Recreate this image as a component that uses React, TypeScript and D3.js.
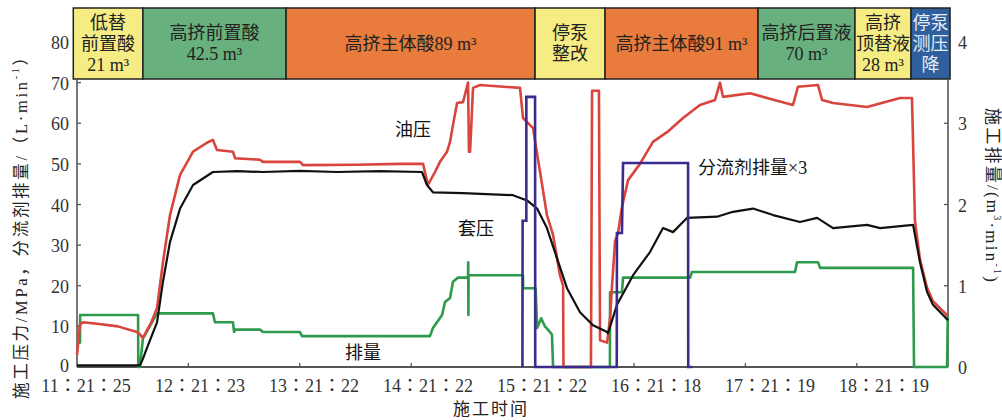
import React from "react";
import * as d3 from "d3";

// time in minutes after 11:21:25, pressures in MPa (left axis)
const oilPressure: [number, number][] = [
  [0, 3], [1.6, 10.5], [3.2, 11], [12, 10.6], [22, 10], [32.3, 8.6], [33.9, 8], [35.5, 7.2],
  [40, 11], [43.1, 14.5], [46.3, 25.8], [50.1, 37.4], [55.5, 47.3], [62.5, 53], [70, 55.2],
  [73.2, 55.9], [75.4, 53.4], [84, 53], [85.1, 51.4], [98.6, 51], [100.2, 50.5], [120.1, 50.5],
  [121.7, 49.7], [150, 49.8], [174, 50], [186.4, 50], [189, 44.8], [192.8, 48], [195.5, 50.5],
  [199.3, 53], [200.9, 55.4], [202.5, 59.6], [204.7, 65], [207.9, 65.2], [210.6, 70], [211.1, 53],
  [211.7, 53], [213.3, 68.7], [217.1, 69.4], [238.6, 68.7], [240.2, 61.3], [245.6, 58.8],
  [253.1, 37.4], [256.4, 32.5], [260.1, 22.6], [261.8, 20], [262, 0], [276.8, 0], [277.4, 68],
  [281.1, 68], [281.7, 6.6], [285.5, 6], [287.1, 12], [288.1, 19.7], [289.8, 31], [291.4, 33],
  [293.5, 39.4], [296.8, 46], [303.2, 50], [310.2, 55.4], [317.8, 57.8], [326.4, 61.3],
  [335.5, 64.5], [343.6, 65.7], [346.3, 70], [347.9, 66.5], [362.5, 67.4], [371.6, 66.2],
  [385.6, 64.5], [388.3, 69], [399.1, 69.4], [401.3, 65.7], [407.2, 65], [425.5, 64],
  [443.3, 66.2], [449.7, 66.2], [451.3, 36], [454, 26.5], [457.8, 19.5], [461, 16.2], [469.1, 12.5],
];

const casingPressure: [number, number][] = [
  [0, 0.4], [33.9, 0.4], [35.5, 2], [37.7, 4.7], [43.1, 11], [46.3, 21], [50.1, 30.8], [55.5, 39],
  [62.5, 44.8], [73.2, 48], [86.2, 48.2], [100, 48], [120, 48.3], [140, 48], [163.2, 48.2],
  [185.8, 48], [188.5, 44.8], [191.7, 43], [207.9, 42.8], [234.8, 42.3], [242.4, 41], [247.8, 39],
  [253.1, 34.2], [258.5, 26.8], [263.9, 19.4], [270.9, 13.5], [277.9, 10.3], [285.5, 8.6],
  [286, 8.3], [290.8, 15.3], [299.5, 22.6], [308.6, 28.3], [315.6, 34.2], [321, 33.2],
  [328.5, 36.7], [344.7, 37], [353.3, 38.2], [364.1, 39], [374.9, 37.4], [389.4, 35.7],
  [398.6, 36.7], [407.2, 34.2], [425.5, 35], [432.5, 34.2], [450.3, 35], [454, 25.8],
  [457.8, 18.5], [461, 15.3], [469.1, 11.5],
];

// displacement, m³/min (right axis)
const displacement: [number, number][] = [
  [0, 0.3], [1.6, 0.3], [1.7, 0.64], [32.9, 0.64], [33, 0], [33.9, 0], [35.5, 0.35], [43.1, 0.66],
  [73.2, 0.66], [74.3, 0.55], [84, 0.55], [84.6, 0.43], [85.1, 0.46], [98.6, 0.46], [100.2, 0.43],
  [120.1, 0.43], [121.2, 0.38], [190.1, 0.38], [191.7, 0.48], [196.6, 0.64], [198.2, 0.8],
  [200.9, 0.85], [202.5, 1.05], [205.2, 1.1], [210.6, 1.1], [210.7, 1.29], [210.8, 0.64],
  [210.9, 1.13], [240.2, 1.13], [240.3, 0.97], [247, 0.97], [247.8, 0.48], [250, 0.6], [252, 0.5],
  [254, 0.45], [255.8, 0.4], [256.4, 0], [287, 0], [287.1, 0.92], [293.5, 0.92], [294.1, 1.1],
  [330.2, 1.1], [331.2, 1.17], [386.7, 1.17], [387.8, 1.29], [399.1, 1.29], [400.2, 1.22],
  [450.3, 1.22], [450.8, 0], [468.6, 0], [469, 0.65],
];

// diverter rate ×3, left-axis units
const diverterRate: [number, number][] = [
  [239.9, 0], [240, 36], [242, 36], [242, 66.5], [246.7, 66.5], [246.8, 0], [290.7, 0],
  [290.8, 33], [293.5, 33], [294.1, 50.2], [329.1, 50.2], [329.2, 0], [331.5, 0],
];

const stageEdges = [-2, 35.5, 112.6, 246.7, 284.4, 366.8, 419, 449.2, 470.2];
const stageLabels: string[][] = [
  ["低替", "前置酸", "21 m³"],
  ["高挤前置酸", "42.5 m³"],
  ["高挤主体酸89 m³"],
  ["停泵", "整改"],
  ["高挤主体酸91 m³"],
  ["高挤后置液", "70 m³"],
  ["高挤", "顶替液", "28 m³"],
  ["停泵", "测压", "降"],
];
const stageColors = ["#f5ec84", "#68b07d", "#e97b3c", "#f5ec84", "#e97b3c", "#68b07d", "#f5ec84", "#2f5f9d"];
const stageTextColors = ["#222", "#222", "#222", "#222", "#222", "#222", "#222", "#e4edf7"];

const xTickValues = [0, 60, 120, 180, 240, 300, 360, 420];
const xTickLabels = ["11：21：25", "12：21：23", "13：21：22", "14：21：22", "15：21：22", "16：21：18", "17：21：19", "18：21：19"];
const leftTicks = [0, 10, 20, 30, 40, 50, 60, 70, 80];
const rightTicks = [0, 1, 2, 3, 4];

const FONT = "'Liberation Serif', 'Noto Sans CJK SC', serif";
const TICK_FONT = "'Liberation Serif', 'Noto Sans CJK TC', serif";

export default function App() {
  const W = 1002, H = 420;
  const x = d3.scaleLinear().domain([0, 469.1]).range([77, 948]);
  const xLabel = d3.scaleLinear().domain([0, 420]).range([86, 884]);
  const yL = d3.scaleLinear().domain([0, 80]).range([367, 42]);
  const yR = d3.scaleLinear().domain([0, 4]).range([367, 42]);
  const bandTop = 8, bandBottom = 79;
  const plotLeft = x(0), plotRight = x(469.1), plotBottom = yL(0);

  const lineL = d3.line<[number, number]>().x(d => x(d[0])).y(d => yL(d[1]));
  const lineR = d3.line<[number, number]>().x(d => x(d[0])).y(d => yR(d[1]));

  return (
    <svg width={W} height={H} style={{ position: "absolute", left: 0, top: 0, background: "#fff" }} fontFamily={FONT}>
      <rect x={0} y={0} width={W} height={H} fill="#fff" />
      {/* stage band */}
      {stageLabels.map((lines, i) => {
        const x0 = x(stageEdges[i]), x1 = x(stageEdges[i + 1]);
        const cy = (bandTop + bandBottom) / 2;
        return (
          <g key={i}>
            <rect x={x0} y={bandTop} width={x1 - x0} height={bandBottom - bandTop} fill={stageColors[i]} stroke="#222" strokeWidth={1.5} />
            {lines.map((t, j) => (
              <text key={j} x={(x0 + x1) / 2} y={cy + (j - (lines.length - 1) / 2) * 21} textAnchor="middle" dominantBaseline="central" fontSize={18} fill={stageTextColors[i]}>
                {t}
              </text>
            ))}
          </g>
        );
      })}

      {/* frame */}
      <line x1={plotLeft} y1={bandBottom} x2={plotLeft} y2={plotBottom} stroke="#555" strokeWidth={1.6} />
      <line x1={plotRight} y1={bandBottom} x2={plotRight} y2={plotBottom} stroke="#555" strokeWidth={1.6} />
      <line x1={plotLeft} y1={plotBottom} x2={plotRight} y2={plotBottom} stroke="#555" strokeWidth={2} />

      {/* left axis */}
      {leftTicks.map(v => (
        <g key={v}>
          {v <= 70 && <line x1={plotLeft} x2={plotLeft + 4} y1={yL(v)} y2={yL(v)} stroke="#555" strokeWidth={1.3} />}
          <text x={69} y={yL(v) - (v === 0 ? 1 : -1)} textAnchor="end" dominantBaseline="central" fontSize={18} fill="#333">{v}</text>
        </g>
      ))}
      {/* right axis */}
      {rightTicks.map(v => (
        <g key={v}>
          {v < 4 && <line x1={plotRight} x2={plotRight - 4} y1={yR(v)} y2={yR(v)} stroke="#555" strokeWidth={1.3} />}
          <text x={958} y={yR(v) + 1} textAnchor="start" dominantBaseline="central" fontSize={18} fill="#333">{v}</text>
        </g>
      ))}
      {/* x axis */}
      {xTickValues.map((v, i) => (
        <g key={v}>
          {i > 0 && <line x1={x(v)} x2={x(v)} y1={plotBottom} y2={plotBottom - 4} stroke="#555" strokeWidth={1.3} />}
          <text x={xLabel(v)} y={392} textAnchor="middle" fontSize={18} fill="#333" fontFamily={TICK_FONT}>{xTickLabels[i]}</text>
        </g>
      ))}

      {/* series */}
      <path d={lineR(displacement) || ""} fill="none" stroke="#2f9a4c" strokeWidth={2.6} strokeLinejoin="round" />
      <path d={lineL(oilPressure) || ""} fill="none" stroke="#d9443c" strokeWidth={2.6} strokeLinejoin="round" />
      <path d={lineL(casingPressure) || ""} fill="none" stroke="#111" strokeWidth={2.2} strokeLinejoin="round" />
      <path d={lineL(diverterRate) || ""} fill="none" stroke="#3b2b8c" strokeWidth={2.6} strokeLinejoin="miter" />

      {/* series labels */}
      <text x={413} y={130} textAnchor="middle" dominantBaseline="central" fontSize={18} fill="#111">油压</text>
      <text x={476} y={229} textAnchor="middle" dominantBaseline="central" fontSize={18} fill="#111">套压</text>
      <text x={363} y={353} textAnchor="middle" dominantBaseline="central" fontSize={18} fill="#111">排量</text>
      <text x={698} y={168} textAnchor="start" dominantBaseline="central" fontSize={18} fill="#111">分流剂排量×3</text>

      {/* axis titles */}
      <text transform="translate(21,224) rotate(-90)" textAnchor="middle" dominantBaseline="central" fontSize={16.5} fill="#222" textLength={350} lengthAdjust="spacing">
        施工压力/MPa，分流剂排量/（L·min<tspan dy={-6} fontSize={10}>-1</tspan><tspan dy={6}>）</tspan>
      </text>
      <text transform="translate(992,195) rotate(90)" textAnchor="middle" dominantBaseline="central" fontSize={17} fill="#222" textLength={174} lengthAdjust="spacing">
        施工排量/(m<tspan dy={-6} fontSize={10}>3</tspan><tspan dy={6}>·min</tspan><tspan dy={-6} fontSize={10}>-1</tspan><tspan dy={6}>)</tspan>
      </text>
      <text x={491} y={415} textAnchor="middle" fontSize={17} fill="#222" letterSpacing={2}>施工时间</text>
    </svg>
  );
}
